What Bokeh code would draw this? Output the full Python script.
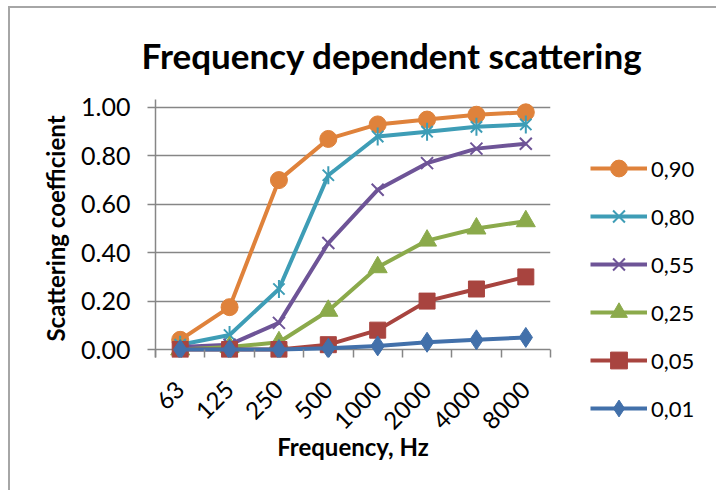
import math
from bokeh.plotting import figure
from bokeh.models import Range1d, FixedTicker, Legend, LegendItem, Title
from bokeh.embed import file_html
from bokeh.resources import INLINE

frequencies = ["63", "125", "250", "500", "1000", "2000", "4000", "8000"]
series_names = ["0,90", "0,80", "0,55", "0,25", "0,05", "0,01"]
s090 = [0.04, 0.175, 0.70, 0.87, 0.93, 0.95, 0.97, 0.98]
s080 = [0.02, 0.06, 0.25, 0.72, 0.88, 0.90, 0.92, 0.93]
s055 = [0.01, 0.02, 0.11, 0.44, 0.66, 0.77, 0.83, 0.85]
s025 = [0.00, 0.01, 0.03, 0.16, 0.34, 0.45, 0.50, 0.53]
s005 = [0.00, 0.00, 0.00, 0.02, 0.08, 0.20, 0.25, 0.30]
s001 = [0.00, 0.00, 0.00, 0.005, 0.015, 0.03, 0.04, 0.05]
y_ticks = [0.0, 0.2, 0.4, 0.6, 0.8, 1.0]
y_tick_labels = ["0.00", "0.20", "0.40", "0.60", "0.80", "1.00"]

colors = ["#DF823B", "#3E9DB6", "#6E5497", "#8BAA4B", "#A8443F", "#4270AA"]
values = [s090, s080, s055, s025, s005, s001]

FONT = "Lato"
GRID = "#868686"

p = figure(frame_width=395, frame_height=258, output_backend="svg", toolbar_location=None,
           x_range=Range1d(0, len(frequencies)), y_range=Range1d(-0.033, 1.033),
           min_border_left=145, min_border_right=164, min_border_top=91,
           min_border_bottom=133)
p.outline_line_color = None
p.background_fill_color = "white"
p.border_fill_color = "white"
p.styles = {"border-top": "2px solid #a6a6a6", "border-left": "2px solid #a6a6a6",
            "margin-left": "8px", "margin-top": "6px"}

title = Title(text="Frequency dependent scattering", align="left",
              text_font=FONT, text_font_size="35px", text_font_style="bold",
              text_color="black", offset=-14, standoff=47)
p.add_layout(title, "above")

xs = [i + 0.5 for i in range(len(frequencies))]

p.xaxis.ticker = FixedTicker(ticks=xs, minor_ticks=list(range(len(frequencies) + 1)))
p.xaxis.major_label_overrides = {x: f for x, f in zip(xs, frequencies)}
p.xaxis.major_label_orientation = math.pi / 4
p.xaxis.axis_line_color = None
p.xaxis.major_tick_line_color = None
p.xaxis.minor_tick_line_color = GRID
p.xaxis.minor_tick_line_width = 1.5
p.xaxis.minor_tick_in = 8
p.xaxis.minor_tick_out = 0
p.xaxis.major_label_standoff = 22
p.xaxis.major_label_text_font = FONT
p.xaxis.major_label_text_font_size = "24px"
p.xaxis.major_label_text_color = "black"
p.xaxis.axis_label = "Frequency, Hz"
p.xaxis.axis_label_text_font = FONT
p.xaxis.axis_label_text_font_size = "24px"
p.xaxis.axis_label_text_font_style = "bold"
p.xaxis.axis_label_text_color = "black"
p.xaxis.axis_label_standoff = -8

p.yaxis.ticker = FixedTicker(ticks=y_ticks, minor_ticks=[])
p.yaxis.major_label_overrides = {t: l for t, l in zip(y_ticks, y_tick_labels)}
p.yaxis.axis_line_color = GRID
p.yaxis.axis_line_width = 1.5
p.yaxis.major_tick_line_color = GRID
p.yaxis.major_tick_line_width = 1.5
p.yaxis.major_tick_in = 0
p.yaxis.major_tick_out = 8
p.yaxis.major_label_standoff = 17
p.yaxis.major_label_text_font = FONT
p.yaxis.major_label_text_font_size = "25px"
p.yaxis.major_label_text_color = "black"
p.yaxis.axis_label = "Scattering coefficient"
p.yaxis.axis_label_text_font = FONT
p.yaxis.axis_label_text_font_size = "24px"
p.yaxis.axis_label_text_font_style = "bold"
p.yaxis.axis_label_text_color = "black"
p.yaxis.axis_label_standoff = 8

p.xgrid.visible = False
p.ygrid.ticker = FixedTicker(ticks=y_ticks)
p.ygrid.grid_line_color = GRID
p.ygrid.grid_line_width = 1.5

items = []
for name, ys, c in zip(series_names, values, colors):
    rs = [p.line(xs, ys, line_color=c, line_width=4)]
    if name == "0,90":
        rs.append(p.scatter(xs, ys, marker="circle", size=17, fill_color=c, line_color=c))
    elif name == "0,80":
        rs.append(p.scatter(xs, ys, marker="x", size=16, line_color=c, line_width=2))
        rs.append(p.scatter(xs, ys, marker="dash", angle=math.pi / 2, size=18, line_color=c, line_width=2))
    elif name == "0,55":
        rs.append(p.scatter(xs, ys, marker="x", size=17, line_color=c, line_width=2))
    elif name == "0,25":
        rs.append(p.scatter(xs, ys, marker="triangle", size=19, fill_color=c, line_color=c))
    elif name == "0,05":
        rs.append(p.scatter(xs, ys, marker="square", size=16, fill_color=c, line_color=c))
    else:
        rs.append(p.scatter(xs, ys, marker="diamond", size=20, fill_color=c, line_color=c))
    items.append(LegendItem(label=name, renderers=rs))

legend = Legend(items=items, location=(40, -72), orientation="vertical",
                glyph_width=57, glyph_height=42, label_height=20, spacing=6,
                padding=0, margin=0, label_standoff=4,
                label_text_font=FONT, label_text_font_size="22px", label_text_color="black",
                border_line_color=None, background_fill_alpha=0)
p.add_layout(legend, "right")

open("out.html", "w").write(file_html(p, INLINE))
